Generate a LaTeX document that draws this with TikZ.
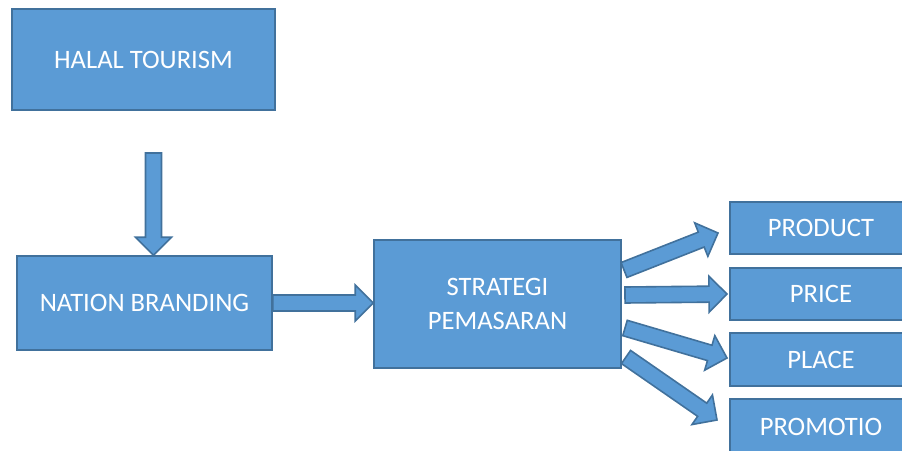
\documentclass[tikz,border=0pt]{standalone}
\usepackage{fontspec}
\setmainfont{Carlito}
\usetikzlibrary{calc}
\definecolor{boxblue}{HTML}{5B9BD5}
\definecolor{boxedge}{HTML}{41719C}
% block arrow from #1 to #2 (tip at #2)
\def\bashaft{8pt}
\def\bahead{18pt}
\def\baheadlen{18pt}
\newcommand{\blockarrow}[2]{%
  \coordinate (bahd) at ($(#2)!\baheadlen!(#1)$);
  \draw[barrow] ($(#1)!\bashaft!90:(#2)$) -- ($(bahd)!\bashaft!-90:(#1)$)
    -- ($(bahd)!\bahead!-90:(#1)$) -- (#2) -- ($(bahd)!\bahead!90:(#1)$)
    -- ($(bahd)!\bashaft!90:(#1)$) -- ($(#1)!\bashaft!-90:(#2)$) -- cycle;
}
\begin{document}
\begin{tikzpicture}[x=1pt, y=-1pt,
  every node/.style={font=\fontsize{26.6}{34}\selectfont, text=white},
  bluebox/.style={rectangle, draw=boxedge, line width=1.6pt, fill=boxblue, align=center, inner sep=0pt},
  barrow/.style={draw=boxedge, line width=1.6pt, fill=boxblue, line join=miter}]
  \clip (0,0) rectangle (902,450);
  % boxes
  \node[bluebox, minimum width=263, minimum height=101] (halal) at (143.5,59.5) {HALAL TOURISM};
  \node[bluebox, minimum width=255, minimum height=94] (nation) at (144.5,303) {NATION BRANDING};
  \node[bluebox, minimum width=247, minimum height=128] (strategi) at (497.5,304) {STRATEGI\\PEMASARAN};
  \node[bluebox, minimum width=182, minimum height=52] (product) at (821,228) {PRODUCT};
  \node[bluebox, minimum width=182, minimum height=52] (price) at (821,294) {PRICE};
  \node[bluebox, minimum width=182, minimum height=53] (place) at (821,359.5) {PLACE};
  \node[bluebox, minimum width=182, minimum height=56] (promotio) at (821,427) {PROMOTIO};
  % arrow ends
  \coordinate (d0) at (153.5,153);
  \coordinate (d1) at (nation.north -| d0);
  \coordinate (s1) at (624,270);  \coordinate (t1) at (718,233);
  \coordinate (s2) at (625,295);  \coordinate (t2) at (727,294);
  \coordinate (s3) at (625,328);  \coordinate (t3) at (727,358);
  \coordinate (s4) at (626,357);  \coordinate (t4) at (717,420);
  % arrows
  \blockarrow{d0}{d1}
  \blockarrow{nation.east}{strategi.west |- nation.east}
  \blockarrow{s1}{t1}
  \blockarrow{s2}{t2}
  \blockarrow{s3}{t3}
  \blockarrow{s4}{t4}
\end{tikzpicture}
\end{document}
